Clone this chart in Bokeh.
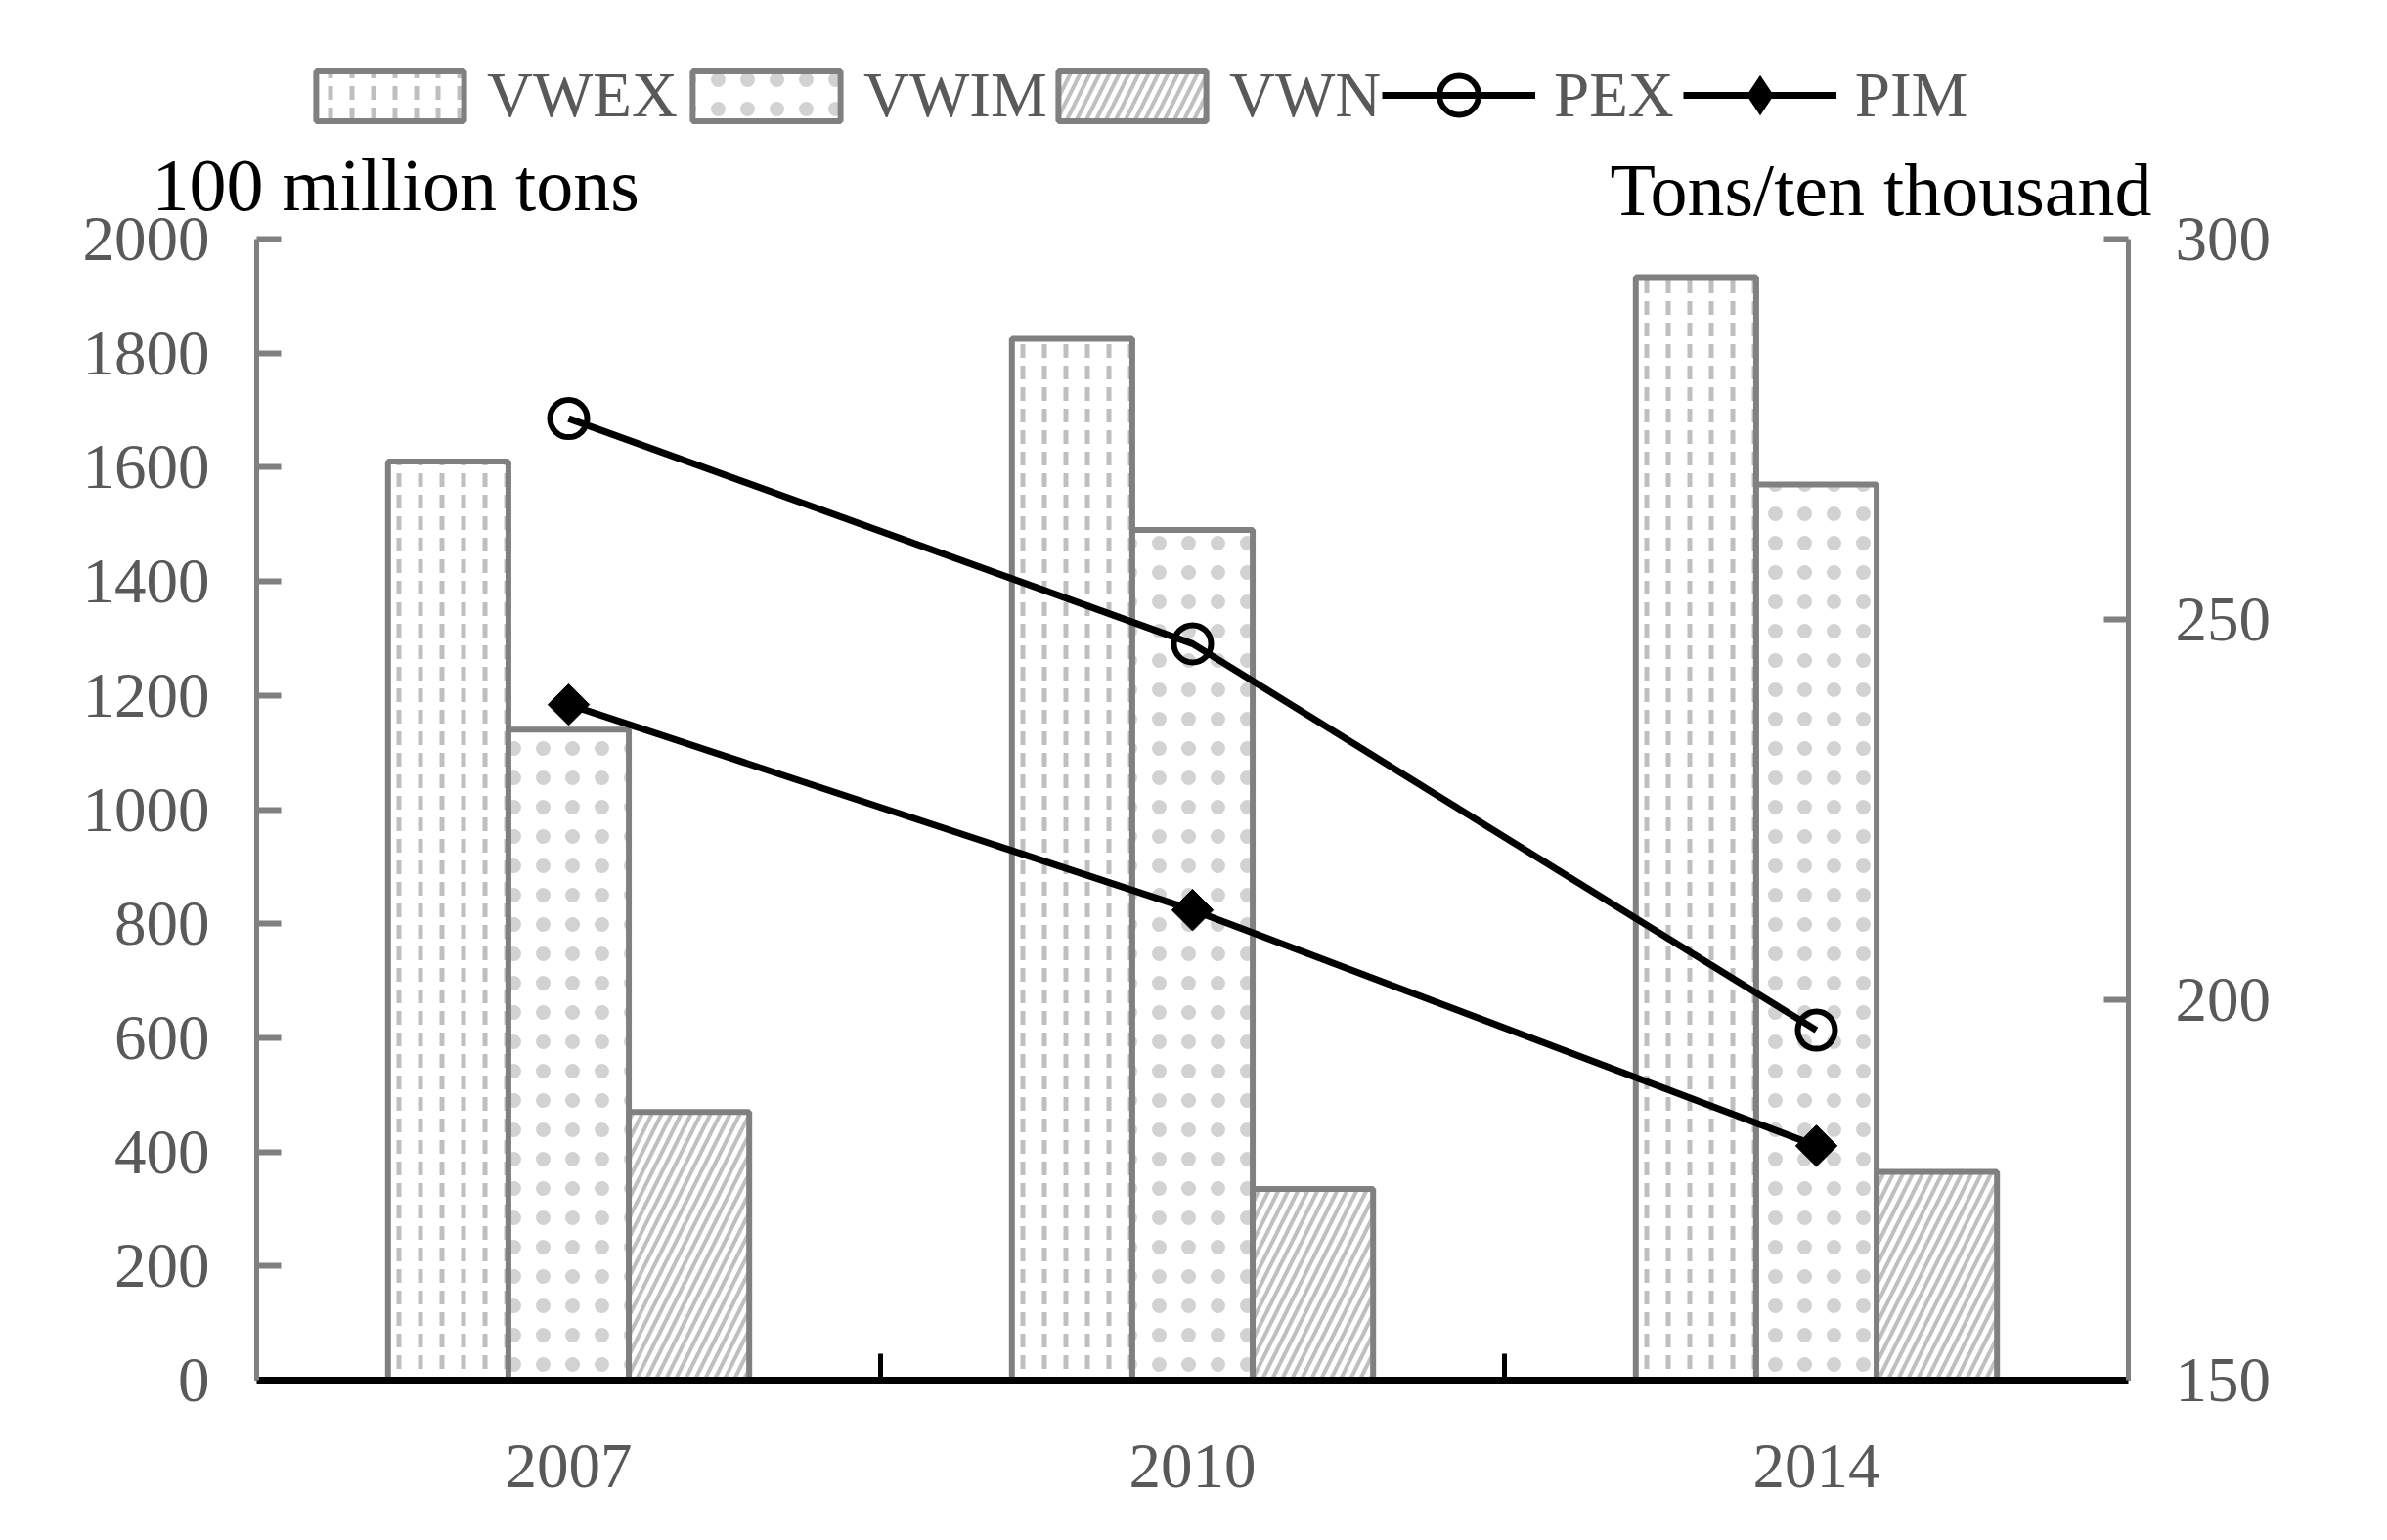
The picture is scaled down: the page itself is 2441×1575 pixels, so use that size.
import numpy as np
from bokeh.plotting import figure
from bokeh.models import (Range1d, LinearAxis, FixedTicker, Legend, LegendItem,
                          ColumnDataSource, Label)
from bokeh.transform import dodge
from bokeh.embed import file_html
from bokeh.resources import INLINE

# ---- data ----
categories = ["2007", "2010", "2014"]
vwex = [1610, 1825, 1933]
vwim = [1140, 1490, 1570]
vwn = [470, 335, 365]
pex = [276.4, 246.8, 196.0]
pim = [238.8, 211.8, 180.8]
left_ticks = [0, 200, 400, 600, 800, 1000, 1200, 1400, 1600, 1800, 2000]
right_ticks = [150, 200, 250, 300]
left_title = "100 million tons"
right_title = "Tons/ten thousand"
bar_names = ["VWEX", "VWIM", "VWN"]

FONT = "Liberation Serif"
GRAY_TXT = "#595959"
EDGE = "#808080"
HATCH = "#bfbfbf"

# ---- layout (pixels on the canvas) ----
W, H = 2425, 1559
AX_L, AX_R, AX_T, AX_B = 262, 2176, 244, 1411   # plot-area box drawn by the axes

ncat = len(categories)
y0, y1 = left_ticks[0], left_ticks[-1]
r0, r1 = right_ticks[0], right_ticks[-1]
xpp = (AX_R - AX_L) / ncat
ypp = (AX_B - AX_T) / (y1 - y0)
rpp = (AX_B - AX_T) / (r1 - r0)

xc = np.arange(ncat) + 0.5
bw = 0.193

src = ColumnDataSource(dict(x=xc, vwex=vwex, vwim=vwim, vwn=vwn, pex=pex, pim=pim))

p = figure(width=W, height=H,
           x_range=Range1d(-AX_L / xpp, ncat + (W - AX_R) / xpp),
           y_range=Range1d(y0 - (H - AX_B) / ypp, y1 + AX_T / ypp),
           output_backend="svg", toolbar_location=None,
           min_border_left=0, min_border_right=0, min_border_top=0, min_border_bottom=0)
p.outline_line_color = None
p.xgrid.visible = False
p.ygrid.visible = False
p.background_fill_color = "white"
p.extra_y_ranges = {"right": Range1d(r0 - (H - AX_B) / rpp, r1 + AX_T / rpp)}

bar_styles = [
    dict(hatch_pattern="vertical_dash", hatch_scale=22, hatch_weight=5),
    dict(hatch_pattern="dot", hatch_scale=30, hatch_weight=0.3, hatch_alpha=0.7),
    dict(hatch_pattern="right_diagonal_line", hatch_scale=20, hatch_weight=4),
]
common_bar = dict(fill_color="white", line_color=EDGE, line_width=6, hatch_color=HATCH)

r_ex = p.vbar(x=dodge("x", -bw, range=p.x_range), top="vwex", width=bw, source=src,
              **common_bar, **bar_styles[0])
r_im = p.vbar(x="x", top="vwim", width=bw, source=src, **common_bar, **bar_styles[1])
r_n = p.vbar(x=dodge("x", bw, range=p.x_range), top="vwn", width=bw, source=src,
             **common_bar, **bar_styles[2])

l1 = p.line("x", "pex", source=src, y_range_name="right", line_color="black", line_width=7)
m1 = p.scatter("x", "pex", source=src, y_range_name="right", marker="circle", size=38,
               fill_color=None, line_color="black", line_width=6)
l2 = p.line("x", "pim", source=src, y_range_name="right", line_color="black", line_width=7)
m2 = p.scatter("x", "pim", source=src, y_range_name="right", marker="square", size=30,
               angle=np.pi / 4, fill_color="black", line_color="black", line_width=1)

# ---- axes ----
xa = p.xaxis[0]
xa.fixed_location = y0
xa.bounds = (0, ncat)
xa.ticker = FixedTicker(ticks=list(xc), minor_ticks=list(range(ncat + 1)))
xa.major_label_overrides = {float(v): c for v, c in zip(xc, categories)}
xa.major_tick_line_color = None
xa.minor_tick_in = 27
xa.minor_tick_out = 0
xa.minor_tick_line_color = "black"
xa.minor_tick_line_width = 5
xa.axis_line_color = "black"
xa.axis_line_width = 7
xa.major_label_text_font = FONT
xa.major_label_text_font_size = "65px"
xa.major_label_text_color = GRAY_TXT
xa.major_label_standoff = 60

ya = p.yaxis[0]
ya.fixed_location = 0
ya.bounds = (y0, y1)
ya.ticker = FixedTicker(ticks=left_ticks, minor_ticks=left_ticks[1:])
ya.major_tick_line_color = None
ya.minor_tick_in = 25
ya.minor_tick_out = 0
ya.minor_tick_line_color = EDGE
ya.minor_tick_line_width = 6
ya.axis_line_color = EDGE
ya.axis_line_width = 5
ya.major_label_text_font = FONT
ya.major_label_text_font_size = "65px"
ya.major_label_text_color = GRAY_TXT
ya.major_label_standoff = 42

ra = LinearAxis(y_range_name="right", fixed_location=ncat, bounds=(r0, r1),
                ticker=FixedTicker(ticks=right_ticks, minor_ticks=right_ticks[1:]))
ra.major_tick_line_color = None
ra.minor_tick_in = 25
ra.minor_tick_out = 0
ra.minor_tick_line_color = EDGE
ra.minor_tick_line_width = 6
ra.axis_line_color = EDGE
ra.axis_line_width = 5
ra.major_label_text_font = FONT
ra.major_label_text_font_size = "65px"
ra.major_label_text_color = GRAY_TXT
ra.major_label_standoff = 42
p.add_layout(ra, "right")

# ---- legends (top strip) ----
m2_leg = p.scatter("x", "pim", source=src, y_range_name="right", marker="diamond",
                   fill_color="black", line_color="black", line_width=1, visible=False)

leg_common = dict(orientation="horizontal", padding=0, margin=0, border_line_color=None,
                  background_fill_alpha=0, label_text_font=FONT,
                  label_text_font_size="65px", label_text_color=GRAY_TXT)

bar_leg_x = [304, 689, 1063]
for name, rend, lx in zip(bar_names, [r_ex, r_im, r_n], bar_leg_x):
    p.add_layout(Legend(items=[LegendItem(label=name, renderers=[rend])],
                        location=(lx, H - 135), label_standoff=5, glyph_width=189,
                        glyph_height=64, **leg_common))

line_leg = Legend(items=[LegendItem(label="PEX", renderers=[l1, m1]),
                         LegendItem(label="PIM", renderers=[l2, m2_leg])],
                  location=(1413, H - 147), spacing=9, label_standoff=19,
                  glyph_width=157, glyph_height=100, **leg_common)
p.add_layout(line_leg)

# ---- axis titles ----
p.add_layout(Label(x=155, y=H - 188, x_units="screen", y_units="screen",
                   text=left_title, text_font=FONT, text_font_size="76px",
                   text_color="black", text_baseline="middle", text_align="left"))
p.add_layout(Label(x=2200, y=H - 193, x_units="screen", y_units="screen",
                   text=right_title, text_font=FONT, text_font_size="76px",
                   text_color="black", text_baseline="middle", text_align="right"))

open("out.html", "w").write(file_html(p, INLINE))
